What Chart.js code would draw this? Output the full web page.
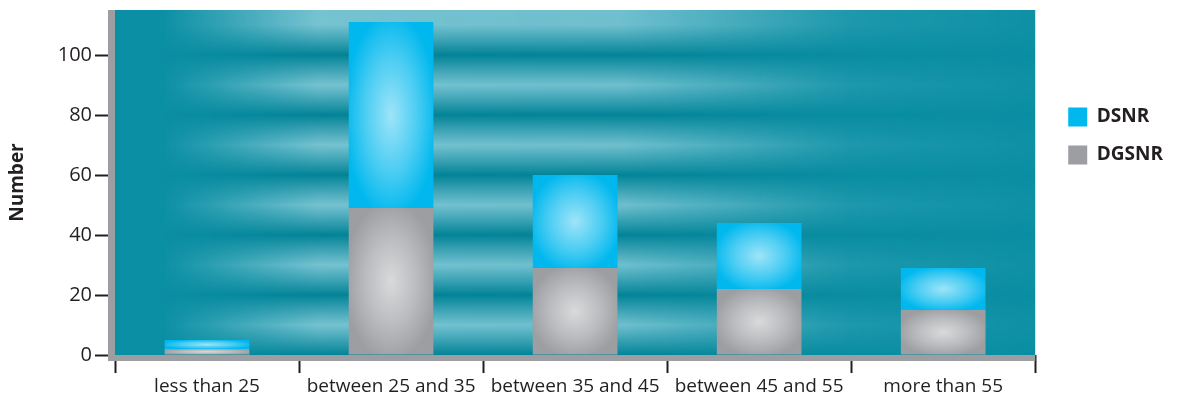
<!DOCTYPE html>
<html>
<head>
<meta charset="utf-8">
<script src="https://cdn.jsdelivr.net/npm/chart.js"></script>
<style>
  html, body { margin: 0; padding: 0; background: #fff; }
  #wrap { width: 1180px; height: 399px; position: relative; }
</style>
</head>
<body>
<div id="wrap"><canvas id="ageChart"></canvas></div>
<script>
    'use strict';

    // ─── DATA ───────────────────────────────────────────────
    const categories = ['less than 25', 'between 25 and 35', 'between 35 and 45', 'between 45 and 55', 'more than 55'];
    const dgsnrValues = [2, 49, 29, 22, 15];
    const dsnrValues = [3, 62, 31, 22, 14];
    const yTicks = [0, 20, 40, 60, 80, 100];

    const FRAME = '#9c9ea2';
    const TEXT = '#231f20';

    // ─── PLUGIN: striped teal background + gray frame ───────
    const backdrop = {
        id: 'backdrop',
        beforeDatasetsDraw(chart) {
            const { ctx, chartArea: a } = chart;
            const w = a.right - a.left, h = a.bottom - a.top;
            ctx.save();
            ctx.fillStyle = '#0b8fa4';
            ctx.fillRect(a.left, a.top, w, h);

            // stripes on an offscreen layer, faded at left and right
            const off = document.createElement('canvas');
            off.width = Math.ceil(w); off.height = Math.ceil(h);
            const o = off.getContext('2d');
            const y0 = chart.scales.y.getPixelForValue(0) - a.top;
            const period = chart.scales.y.getPixelForValue(0) - chart.scales.y.getPixelForValue(20);
            const g = o.createLinearGradient(0, 0, 0, h);
            for (let k = -1; k < 8; k++) {
                const dark = y0 - k * period;
                const light = dark - period / 2;
                [[dark, 'rgba(0,128,148,0.95)'], [light, 'rgba(150,210,222,0.9)']].forEach(([p, c]) => {
                    const t = p / h;
                    if (t >= 0 && t <= 1) g.addColorStop(t, c);
                });
            }
            o.fillStyle = g;
            o.fillRect(0, 0, w, h);
            o.globalCompositeOperation = 'destination-in';
            const m = o.createLinearGradient(0, 0, w, 0);
            m.addColorStop(0, 'rgba(0,0,0,0)');
            m.addColorStop(0.05, 'rgba(0,0,0,0)');
            m.addColorStop(0.22, 'rgba(0,0,0,0.85)');
            m.addColorStop(0.55, 'rgba(0,0,0,0.8)');
            m.addColorStop(0.8, 'rgba(0,0,0,0.15)');
            m.addColorStop(1, 'rgba(0,0,0,0.03)');
            o.fillStyle = m;
            o.fillRect(0, 0, w, h);
            ctx.drawImage(off, a.left, a.top);
            ctx.restore();
        },
        afterDatasetsDraw(chart) {
            const { ctx, chartArea: a } = chart;
            ctx.save();
            // soft highlight in the middle of every bar
            chart.data.datasets.forEach((ds, di) => {
                chart.getDatasetMeta(di).data.forEach(el => {
                    const left = el.x - el.width / 2, top = Math.min(el.y, el.base);
                    const bh = Math.abs(el.base - el.y);
                    if (bh < 1) return;
                    ctx.save();
                    ctx.beginPath();
                    ctx.rect(left, top, el.width, bh);
                    ctx.clip();
                    const cx = el.x, cy = top + bh / 2;
                    const r = Math.max(el.width, bh) * 0.5;
                    ctx.translate(cx, cy);
                    ctx.scale(el.width / (2 * r) * 1.1, bh / (2 * r) * 1.1);
                    const rg = ctx.createRadialGradient(0, 0, 0, 0, 0, r);
                    rg.addColorStop(0, 'rgba(255,255,255,0.62)');
                    rg.addColorStop(0.55, 'rgba(255,255,255,0.3)');
                    rg.addColorStop(1, 'rgba(255,255,255,0)');
                    ctx.fillStyle = rg;
                    ctx.fillRect(-r * 3, -r * 3, r * 6, r * 6);
                    ctx.restore();
                });
            });
            // gray L-shaped frame
            ctx.fillStyle = FRAME;
            ctx.fillRect(a.left - 7, a.top, 7, a.bottom - a.top + 6);
            ctx.fillRect(a.left - 7, a.bottom, a.right - a.left + 7, 6);
            ctx.restore();
        }
    };

    // ─── RENDER ─────────────────────────────────────────────
    const ctx = document.getElementById('ageChart').getContext('2d');
    new Chart(ctx, {
        type: 'bar',
        data: {
            labels: categories,
            datasets: [
                { label: 'DGSNR', data: dgsnrValues, backgroundColor: '#9c9ea2', stack: 's' },
                { label: 'DSNR', data: dsnrValues, backgroundColor: '#00b8ee', stack: 's' }
            ]
        },
        options: {
            responsive: true, maintainAspectRatio: false, animation: false,
            layout: { padding: { top: 10, right: 7, left: 0, bottom: 0 } },
            datasets: { bar: { categoryPercentage: 1, barPercentage: 0.46, borderWidth: 0 } },
            plugins: {
                tooltip: { enabled: false },
                legend: {
                    position: 'right', align: 'start', reverse: true,
                    title: { display: true, text: ' ', padding: { top: 0, bottom: 64 } },
                    labels: {
                        boxWidth: 19, boxHeight: 19, padding: 19, color: TEXT,
                        font: { family: 'Open Sans', size: 19, weight: 'bold' },
                        generateLabels(chart) {
                            return chart.data.datasets.map((ds, i) => ({
                                text: ds.label, fillStyle: ds.backgroundColor, strokeStyle: ds.backgroundColor,
                                lineWidth: 0, datasetIndex: i, fontColor: TEXT
                            }));
                        }
                    }
                }
            },
            scales: {
                x: {
                    stacked: true, offset: true,
                    grid: { offset: true, drawOnChartArea: false, drawTicks: true, tickLength: 18, tickWidth: 2, tickColor: '#231f20' },
                    border: { display: false },
                    ticks: { color: TEXT, font: { family: 'Open Sans', size: 19 }, padding: 2, maxRotation: 0 },
                    afterFit(scale) { scale.height = 44; }
                },
                y: {
                    stacked: true, min: 0, max: 115,
                    afterBuildTicks(scale) { scale.ticks = yTicks.map(v => ({ value: v })); },
                    grid: { drawOnChartArea: false, drawTicks: true, tickLength: 20, tickWidth: 2, tickColor: '#231f20' },
                    border: { display: false },
                    ticks: { color: TEXT, font: { family: 'Open Sans', size: 20 }, padding: 3 },
                    title: { display: true, text: 'Number', color: TEXT, font: { family: 'Open Sans', size: 19, weight: 'bold' }, padding: { top: 6, bottom: 4 } },
                    afterFit(scale) { scale.width = 115; scale.paddingTop = 0; scale.paddingBottom = 0; }
                },
                // empty gap between plot and legend
                gap: {
                    type: 'linear', position: 'right', display: true,
                    grid: { display: false }, ticks: { display: false }, border: { display: false },
                    afterFit(scale) { scale.width = 14; }
                }
            }
        },
        plugins: [backdrop]
    });
</script>
</body>
</html>
